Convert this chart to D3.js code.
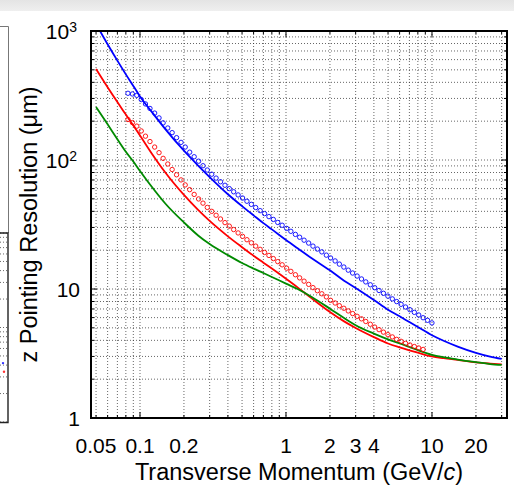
<!DOCTYPE html>
<html>
<head>
<meta charset="utf-8">
<script src="https://cdn.jsdelivr.net/npm/d3@7"></script>
<style>
  body { margin: 0; background: #fff; }
  svg { display: block; }
  text { font-family: "Liberation Sans", Arial, Helvetica, sans-serif; fill: #000; }
</style>
</head>
<body>
<svg width="514" height="490"></svg>
<script>
// ---- data ----
const markerPt = [0.0827,0.0887,0.0951,0.102,0.109,0.117,0.126,0.135,0.144,0.155,
  0.166,0.178,0.191,0.204,0.219,0.235,0.252,0.270,0.289,0.310,
  0.332,0.356,0.382,0.409,0.438,0.470,0.504,0.540,0.579,0.620,
  0.665,0.713,0.764,0.819,0.878,0.941,1.01,1.08,1.16,1.24,
  1.33,1.43,1.53,1.64,1.76,1.89,2.02,2.17,2.32,2.49,
  2.67,2.86,3.07,3.29,3.52,3.78,4.05,4.34,4.65,4.99,
  5.35,5.73,6.14,6.59,7.06,7.57,8.11,8.69,9.32,9.99];

const blueMarkers = [329,325,317,294,272,251,231,212,194,177,
  163,149,137,126,115,106,97.9,90.3,83.6,77.6,
  72.4,67.8,63.7,60.0,56.7,53.6,50.7,47.9,45.3,42.8,
  40.5,38.4,36.4,34.6,32.8,31.2,29.5,28.0,26.5,25.2,
  23.9,22.7,21.5,20.4,19.4,18.3,17.4,16.5,15.6,14.8,
  14.0,13.3,12.6,11.96,11.35,10.78,10.23,9.74,9.26,8.81,
  8.38,7.99,7.61,7.25,6.91,6.59,6.29,5.99,5.72,5.46];

const redMarkers = [206,195,183,168,153,139,126,114,103,93.1,
  84.4,76.8,70.1,64.1,58.9,54.1,49.9,46.3,42.9,40.0,
  37.3,34.9,32.7,30.7,28.9,27.2,25.6,24.1,22.8,21.5,
  20.3,19.2,18.2,17.2,16.3,15.4,14.5,13.7,12.9,12.2,
  11.5,10.86,10.25,9.70,9.18,8.69,8.17,7.79,7.42,7.09,
  6.76,6.45,6.14,5.87,5.60,5.33,5.07,4.84,4.63,4.43,
  4.25,4.07,3.93,3.79,3.68,3.58,3.49,3.40];

const linePt = [0.05,0.06,0.07,0.08,0.09,0.1,0.12,0.15,0.2,0.25,0.3,0.4,0.5,0.6,0.7,0.8,
  1,1.2,1.5,2,2.5,3,4,5,6,7,8,10,12,15,20,25,30];
const blueLine = [1133,789,589,461,375,311,237,172,118,90.6,73.8,54.3,43.9,37.2,32.4,29.0,
  24.0,20.7,17.3,13.96,11.6,10.2,8.22,6.90,6.14,5.54,5.07,4.38,3.97,3.58,3.20,2.99,2.87];
const redLine = [507,366,281,225,185,155,113,79.3,53.6,41.0,33.7,25.6,21.1,18.1,16.0,14.4,
  12.0,10.3,8.46,6.63,5.61,4.99,4.24,3.78,3.53,3.35,3.21,3.00,2.91,2.82,2.70,2.64,2.60];
const greenLine = [257,189,145,116,97.3,82.2,62.3,45.6,32.8,26.0,22.3,18.3,15.9,14.4,13.3,12.4,
  11.0,10.0,8.67,7.04,5.96,5.24,4.51,4.07,3.79,3.55,3.36,3.09,2.96,2.84,2.71,2.62,2.58];

const xTickLabels = [0.05, 0.1, 0.2, 1, 2, 3, 4, 10, 20];
const yTickLabels = [1, 10, 100, 1000];
const xTitle = "Transverse Momentum (GeV/";
const yTitle = "z Pointing Resolution (\u03bcm)";

// ---- layout ----
const svg = d3.select("svg");
const L = 91, R = 507, T = 31, B = 418;

const x = d3.scaleLog().domain([0.04617, 32.64]).range([L, R]);
const y = d3.scaleLog().domain([1, 1000]).range([B, T]);

// backdrop band at the top of the page
const defs = svg.append("defs");
const grad = defs.append("linearGradient")
  .attr("id", "band").attr("x1", 0).attr("y1", 0).attr("x2", 0).attr("y2", 1);
grad.append("stop").attr("offset", "0%").attr("stop-color", "#e4e4e4");
grad.append("stop").attr("offset", "100%").attr("stop-color", "#efefef");
svg.append("rect").attr("x", 0).attr("y", 0).attr("width", 514).attr("height", 11)
  .attr("fill", "url(#band)");

defs.append("clipPath").attr("id", "plotclip")
  .append("rect").attr("x", L).attr("y", T).attr("width", R - L).attr("height", B - T);

// ---- neighbouring panel cut off at the left edge ----
const frag = svg.append("g");
frag.append("path").attr("d", "M-2,26.5H8.5V233").attr("fill", "none")
  .attr("stroke", "#777").attr("stroke-width", 1);
const fy = d3.scaleLog().domain([1, 100]).range([422, 233]);
frag.selectAll(".fg").data(fy.ticks()).enter().append("line")
  .attr("x1", 0).attr("x2", 8).attr("y1", d => fy(d)).attr("y2", d => fy(d))
  .attr("stroke", "#000").attr("stroke-width", 0.6).attr("stroke-dasharray", "1,2");
frag.append("path").attr("d", "M-2,233H8V422.5H-2").attr("fill", "none")
  .attr("stroke", "#222").attr("stroke-width", 1.4);
frag.append("circle").attr("cx", 3).attr("cy", fy(4.2)).attr("r", 1.2).attr("fill", "#33f");
frag.append("circle").attr("cx", 4).attr("cy", fy(3.4)).attr("r", 1.2).attr("fill", "#f33");

// ---- grid ----
const isMajor = v => Math.abs(Math.log10(v) - Math.round(Math.log10(v))) < 1e-6;
const grid = svg.append("g").attr("stroke", "#000").attr("stroke-width", 0.7)
  .attr("stroke-dasharray", "1,2").attr("opacity", 0.85);
grid.selectAll(".gx").data(x.ticks()).enter().append("line")
  .attr("x1", d => x(d)).attr("x2", d => x(d)).attr("y1", T).attr("y2", B);
grid.selectAll(".gy").data(y.ticks()).enter().append("line")
  .attr("x1", L).attr("x2", R).attr("y1", d => y(d)).attr("y2", d => y(d));

// ---- curves ----
const plot = svg.append("g").attr("clip-path", "url(#plotclip)");
const line = d3.line().x(d => x(d[0])).y(d => y(d[1])).curve(d3.curveMonotoneX);
const lines = [[blueLine, "#0000ff"], [redLine, "#ff0000"], [greenLine, "#008a00"]];
lines.forEach(([vals, col]) => {
  plot.append("path").datum(linePt.map((p, i) => [p, vals[i]]))
    .attr("d", line).attr("fill", "none").attr("stroke", col).attr("stroke-width", 1.8);
});

const markers = [[blueMarkers, "#0000ff"], [redMarkers, "#ff0000"]];
markers.forEach(([vals, col]) => {
  plot.selectAll(null).data(vals.map((v, i) => [markerPt[i], v])).enter().append("circle")
    .attr("cx", d => x(d[0])).attr("cy", d => y(d[1])).attr("r", 2.2)
    .attr("fill", "none").attr("stroke", col).attr("stroke-width", 0.9);
});

// ---- frame and ticks ----
const ax = svg.append("g").attr("stroke", "#000");
x.ticks().forEach(v => {
  const len = isMajor(v) ? 6 : 3;
  ax.append("line").attr("x1", x(v)).attr("x2", x(v)).attr("y1", B).attr("y2", B - len).attr("stroke-width", 1);
  ax.append("line").attr("x1", x(v)).attr("x2", x(v)).attr("y1", T).attr("y2", T + len).attr("stroke-width", 1);
});
y.ticks().forEach(v => {
  const len = isMajor(v) ? 6 : 3;
  ax.append("line").attr("x1", L).attr("x2", L + len).attr("y1", y(v)).attr("y2", y(v)).attr("stroke-width", 1);
  ax.append("line").attr("x1", R).attr("x2", R - len).attr("y1", y(v)).attr("y2", y(v)).attr("stroke-width", 1);
});
ax.append("rect").attr("x", L).attr("y", T).attr("width", R - L).attr("height", B - T)
  .attr("fill", "none").attr("stroke-width", 2);

// ---- tick labels ----
svg.selectAll(".xl").data(xTickLabels).enter().append("text")
  .attr("x", d => x(d)).attr("y", 453).attr("text-anchor", "middle")
  .style("font-size", "21px").text(d => d);

yTickLabels.forEach(v => {
  const e = Math.round(Math.log10(v));
  const t = svg.append("text").attr("y", y(v)).attr("dy", "0.36em")
    .attr("text-anchor", "end").style("font-size", "21px");
  if (e < 2) {
    t.attr("x", 80).text(v);
  } else {
    t.attr("x", 77).text("10");
    t.append("tspan").attr("dy", "-0.5em").style("font-size", "14px").text(e);
  }
});

// ---- axis titles ----
const xt = svg.append("text").attr("x", (L + R) / 2).attr("y", 480)
  .attr("text-anchor", "middle").style("font-size", "23.5px").text(xTitle);
xt.append("tspan").style("font-style", "italic").text("c");
xt.append("tspan").text(")");

svg.append("text").attr("transform", `translate(37,${(T + B) / 2}) rotate(-90)`)
  .attr("text-anchor", "middle").style("font-size", "23.5px").text(yTitle);
</script>
</body>
</html>
